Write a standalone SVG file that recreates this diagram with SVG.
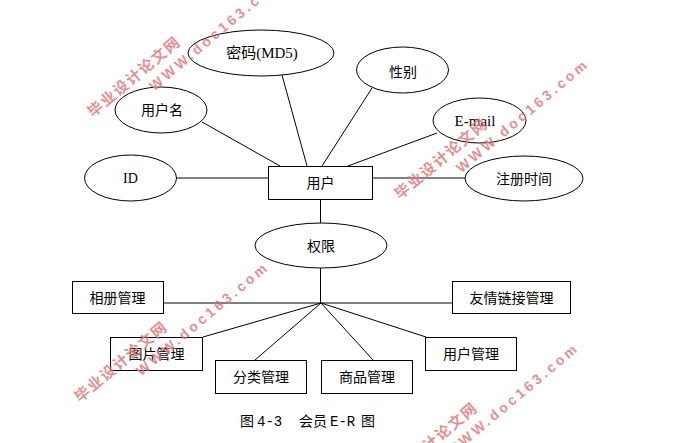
<svg xmlns="http://www.w3.org/2000/svg" width="686" height="443" viewBox="0 0 686 443">
<style>
.shape{fill:#fff;stroke:#000;stroke-width:1}
.ln{stroke:#000;stroke-width:1;fill:none}
.t{font-family:"Noto Sans CJK SC","Liberation Sans",sans-serif;font-size:14px;text-anchor:middle;fill:#000}
.ts{font-family:"Liberation Serif","Noto Sans CJK SC",serif;font-size:15px;text-anchor:middle;fill:#000}
.cap{font-family:"Liberation Mono","Noto Sans CJK SC",monospace;font-size:14px;fill:#000}
.wm1{font-family:"Noto Sans CJK SC",sans-serif;font-weight:bold;font-size:15px;letter-spacing:1.6px;fill:#e07a7a;fill-opacity:0.85}
.wm2{font-family:"Liberation Sans",sans-serif;font-weight:bold;font-size:14px;letter-spacing:3.2px;fill:#e07a7a;fill-opacity:0.85}
</style>
<rect width="686" height="443" fill="#fff"/>
<g id="connectors">
<path class="ln" d="M177 178H268"/>
<path class="ln" d="M373 178H465"/>
<path class="ln" d="M202 122L280 166"/>
<path class="ln" d="M282 75L307 166"/>
<path class="ln" d="M372 88L322 166"/>
<path class="ln" d="M437 133L348 166"/>
<path class="ln" d="M320.5 200V223"/>
<path class="ln" d="M320.5 268V303"/>
<path class="ln" d="M163 303H452"/>
<path class="ln" d="M321 303L203 337"/>
<path class="ln" d="M321 303L255 360"/>
<path class="ln" d="M321 303L373 360"/>
<path class="ln" d="M321 303L426 337"/>
</g>
<g id="n-user"><rect class="shape" x="268.5" y="166.5" width="104" height="33"/><text class="t" x="320.5" y="188">用户</text></g>
<g id="n-id"><ellipse class="shape" cx="130.5" cy="178" rx="46" ry="23"/><text class="ts" x="130.5" y="183" style="font-size:14px">ID</text></g>
<g id="n-username"><ellipse class="shape" cx="161" cy="110" rx="46" ry="23"/><text class="t" x="162" y="115">用户名</text></g>
<g id="n-password"><ellipse class="shape" cx="261" cy="53" rx="73" ry="23"/><text class="ts" x="262" y="58">密码(MD5)</text></g>
<g id="n-gender"><ellipse class="shape" cx="402.5" cy="70" rx="46" ry="23"/><text class="t" x="403" y="77">性别</text></g>
<g id="n-email"><ellipse class="shape" cx="479.5" cy="120.5" rx="46.5" ry="22.5"/><text class="ts" x="475" y="126">E-mail</text></g>
<g id="n-regtime"><ellipse class="shape" cx="524" cy="178.5" rx="59" ry="22.5"/><text class="t" x="524" y="184">注册时间</text></g>
<g id="n-perm"><ellipse class="shape" cx="321" cy="245.5" rx="66" ry="22.5"/><text class="t" x="321" y="251">权限</text></g>
<g id="n-album"><rect class="shape" x="72.5" y="281.5" width="91" height="32"/><text class="t" x="117.5" y="303">相册管理</text></g>
<g id="n-links"><rect class="shape" x="452.5" y="281.5" width="118" height="32"/><text class="t" x="511.5" y="303">友情链接管理</text></g>
<g id="n-picture"><rect class="shape" x="110.5" y="337.5" width="92" height="33"/><text class="t" x="156.5" y="359">图片管理</text></g>
<g id="n-category"><rect class="shape" x="215.5" y="360.5" width="91" height="33"/><text class="t" x="261" y="382">分类管理</text></g>
<g id="n-goods"><rect class="shape" x="321.5" y="360.5" width="91" height="33"/><text class="t" x="367" y="382">商品管理</text></g>
<g id="n-usermgmt"><rect class="shape" x="425.5" y="337.5" width="91" height="33"/><text class="t" x="471" y="359">用户管理</text></g>
<text class="cap" y="426"><tspan x="240">图</tspan><tspan x="257">4-3</tspan><tspan x="299">会员</tspan><tspan x="330">E-R</tspan><tspan x="361">图</tspan></text>
<g id="watermarks">
<g transform="translate(93,118) rotate(-40)"><text class="wm1" x="0" y="0">毕业设计论文网</text><text class="wm2" x="64" y="19">WWW.doc163.com</text></g>
<g transform="translate(400,200) rotate(-40)"><text class="wm1" x="0" y="0">毕业设计论文网</text><text class="wm2" x="64" y="19">WWW.doc163.com</text></g>
<g transform="translate(80,403) rotate(-40)"><text class="wm1" x="0" y="0">毕业设计论文网</text><text class="wm2" x="64" y="19">WWW.doc163.com</text></g>
<g transform="translate(390,484) rotate(-40)"><text class="wm1" x="0" y="0">毕业设计论文网</text><text class="wm2" x="64" y="19">WWW.doc163.com</text></g>
</g>
</svg>
